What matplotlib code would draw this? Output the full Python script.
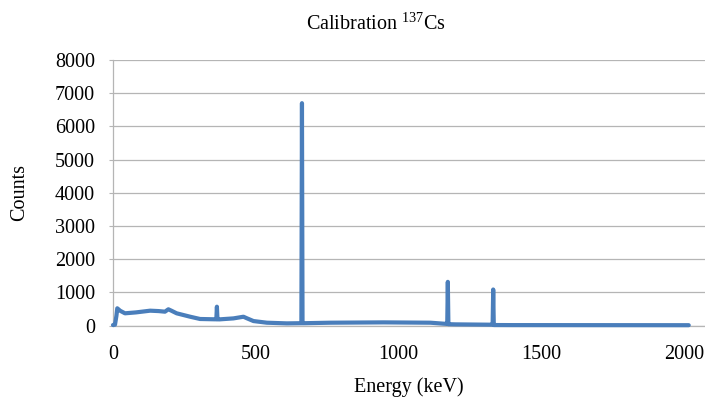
import matplotlib
matplotlib.use("Agg")
import matplotlib.pyplot as plt

# spectrum (energy in keV, counts)
energy = [0, 7, 12, 15, 25, 42, 80, 130, 160, 182, 194, 205, 223, 270, 305,
          355, 362, 364, 366, 372, 422, 457, 470, 492, 539, 609,
          655, 660, 662, 664, 669, 761, 948, 1112, 1159,
          1168, 1171, 1173, 1175, 1178, 1200,
          1325, 1330, 1332, 1334, 1337, 1400, 2017]
counts = [20, 30, 300, 524, 450, 373, 400, 452, 440, 422, 494, 450, 373, 271, 202,
          193, 193, 572, 193, 190, 220, 270, 220, 140, 90, 70,
          75, 75, 6700, 75, 75, 90, 100, 90, 60,
          55, 55, 1320, 45, 45, 40,
          30, 30, 1090, 20, 20, 18, 15]

x_ticks = [0, 500, 1000, 1500, 2000]
y_ticks = [0, 1000, 2000, 3000, 4000, 5000, 6000, 7000, 8000]


def main():
    plt.rcParams['font.family'] = ['Liberation Serif', 'DejaVu Serif']
    plt.rcParams['mathtext.fontset'] = 'custom'
    plt.rcParams['mathtext.rm'] = 'Liberation Serif'

    fs = 14.5
    fig = plt.figure(figsize=(7.05, 4.04), dpi=100)
    ax = fig.add_axes([113 / 705, 1 - 325.7 / 404, 592 / 705, 265.7 / 404])

    ax.plot(energy, counts, color='#4A7EBB', lw=3, solid_capstyle='round',
            solid_joinstyle='round', zorder=3, clip_on=False)

    ax.set_xlim(0, 2074)
    ax.set_ylim(0, 8000)
    ax.set_xticks(x_ticks)
    ax.set_yticks(y_ticks)
    ax.grid(axis='y', color='#b5b5b5', lw=0.9)
    ax.set_axisbelow(True)

    for s in ['top', 'right']:
        ax.spines[s].set_visible(False)
    for s in ['left', 'bottom']:
        ax.spines[s].set_color('#b5b5b5')
        ax.spines[s].set_linewidth(0.9)

    ax.tick_params(axis='x', length=0, pad=14, labelsize=fs)
    ax.tick_params(axis='y', length=3, color='#b5b5b5', pad=10, labelsize=fs)

    ax.set_xlabel('Energy (keV)', fontsize=fs)
    ax.xaxis.set_label_coords(0.5, -0.23)
    ax.xaxis.label.set_va('center')
    ax.set_ylabel('Counts', fontsize=fs)
    ax.yaxis.set_label_coords(-0.158, 0.5)
    ax.yaxis.label.set_va('center')

    fig.text(376 / 705, 1 - 24 / 404, r'Calibration $^{137}$Cs',
             ha='center', va='center', fontsize=fs)

    fig.savefig('out.png', dpi=100)


if __name__ == "__main__":
    main()
